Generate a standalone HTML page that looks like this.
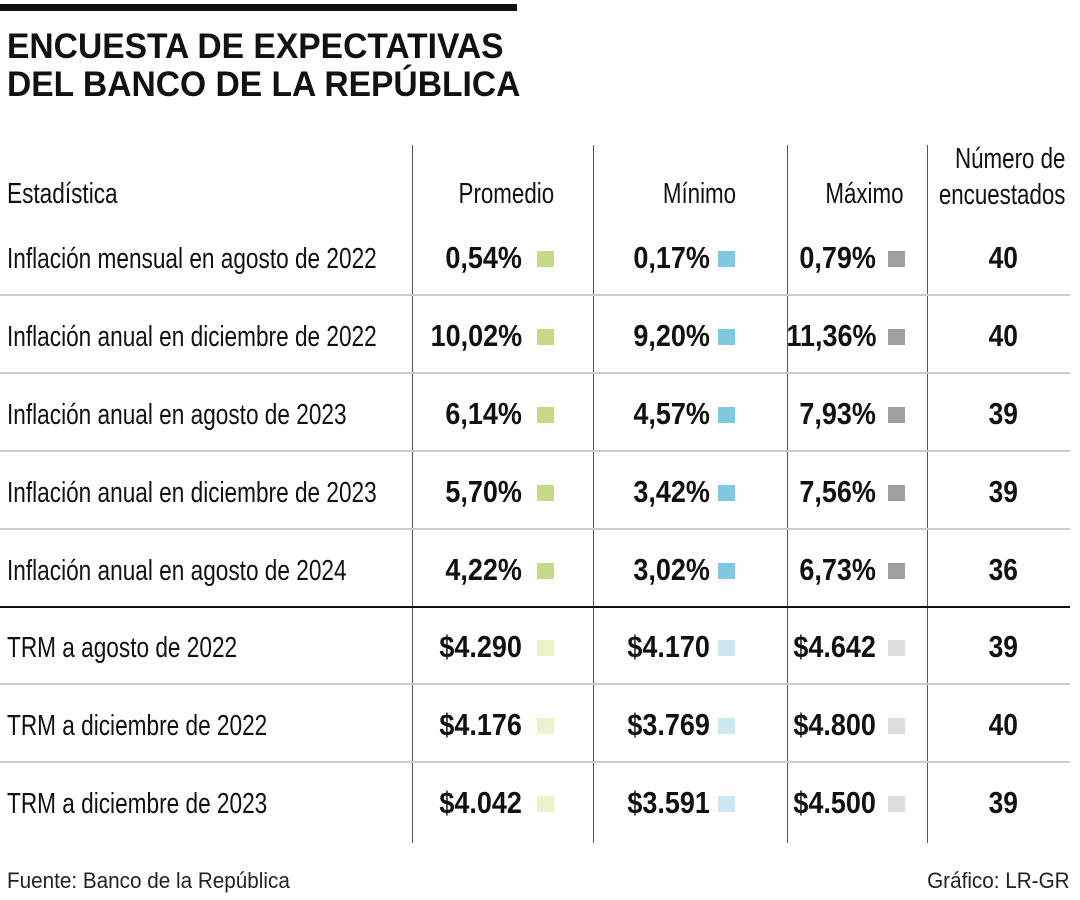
<!DOCTYPE html>
<html><head><meta charset="utf-8"><style>
body{margin:0;width:1080px;height:900px;background:#fff;position:relative;overflow:hidden;font-family:"Liberation Sans",sans-serif;color:#111}
.a{position:absolute;white-space:nowrap}
.sx{display:inline-block;transform:scaleX(.75);transform-origin:left center}
.r .sx{transform-origin:right center}
.c .sx{transform-origin:center center}
.vl{position:absolute;width:1px;background:#555;top:145px;height:698px}
.hl{position:absolute;height:2px;background:#ccc;left:0;width:1070px}
.sq{position:absolute;width:17px;height:16px}
</style></head><body>
<div class="a" style="left:0;top:4px;width:517px;height:7px;background:#111"></div>
<div class="a" style="left:7px;top:28px;font-weight:bold;font-size:35px;line-height:38px"><span class="sx" style="transform:scaleX(.96)">ENCUESTA DE EXPECTATIVAS<br>DEL BANCO DE LA REPÚBLICA</span></div>
<div id="tbl"></div>
<div class="a" style="left:7px;top:868px;font-size:22px;color:#222"><span class="sx" style="transform:scaleX(.94)">Fuente: Banco de la República</span></div>
<div class="a r" style="right:10px;top:868px;font-size:22px;color:#222"><span class="sx" style="transform:scaleX(.94)">Gráfico: LR-GR</span></div>
<script>
const labels=["Inflación mensual en agosto de 2022","Inflación anual en diciembre de 2022","Inflación anual en agosto de 2023","Inflación anual en diciembre de 2023","Inflación anual en agosto de 2024","TRM a agosto de 2022","TRM a diciembre de 2022","TRM a diciembre de 2023"];
const promedio=["0,54%","10,02%","6,14%","5,70%","4,22%","$4.290","$4.176","$4.042"];
const minimo=["0,17%","9,20%","4,57%","3,42%","3,02%","$4.170","$3.769","$3.591"];
const maximo=["0,79%","11,36%","7,93%","7,56%","6,73%","$4.642","$4.800","$4.500"];
const encuestados=["40","40","39","39","36","39","40","39"];
const T=document.getElementById('tbl');
function txt(html,css,cls,name,sc){const d=document.createElement('div');d.className='a '+(cls||'');d.style.cssText=css;d.innerHTML='<span class="sx"'+(sc?' style="transform:scaleX('+sc+')"':'')+'>'+html+'</span>';


T.appendChild(d);return d;}
[412,593,787,927].forEach((x,i)=>{const v=document.createElement('div');v.className='vl';v.style.left=x+'px';


T.appendChild(v);});
txt('Estadística','left:7px;top:178px;font-size:29px','', 'header-estadistica',.78);
txt('Promedio','right:526px;top:178px;font-size:29px','r','header-promedio',.77);
txt('Mínimo','right:344px;top:178px;font-size:29px','r','header-minimo',.77);
txt('Máximo','right:176px;top:178px;font-size:29px','r','header-maximo',.77);
txt('Número de<br>encuestados','right:15px;top:141px;font-size:29px;line-height:36px;text-align:right','r','header-encuestados',.77);
const cols=[[promedio,558,[["#c5d98a","#eef2cc"]],"promedio"],[minimo,370,[["#7ec8e3","#cde8f2"]],"minimo"],[maximo,204,[["#a0a0a0","#dcdcdc"]],"maximo"]];
const sqx=[537,718,888];
labels.forEach((lab,i)=>{
  const cy=259+i*78-(i>=5?1:0);
  txt(lab,'left:7px;top:'+(cy-16)+'px;font-size:29px','', 'row-label',.78);
  cols.forEach((c,j)=>{
    txt(c[0][i],'right:'+c[1]+'px;top:'+(cy-19)+'px;font-size:31px;font-weight:bold','r','value-'+c[3],.87);
    const s=document.createElement('div');s.className='sq';s.style.left=sqx[j]+'px';s.style.top=(cy-8)+'px';s.style.background=c[2][0][i>=5?1:0];
    
    
    T.appendChild(s);
  });
  txt(encuestados[i],'left:927px;width:153px;text-align:center;top:'+(cy-19)+'px;font-size:31px;font-weight:bold','c','value-encuestados',.85);
  if(i<7){const h=document.createElement('div');h.className='hl';h.style.top=(cy+35)+'px';
    if(i===4){h.style.background='#111';}
    
    
    T.appendChild(h);}
});
</script>
</body></html>
